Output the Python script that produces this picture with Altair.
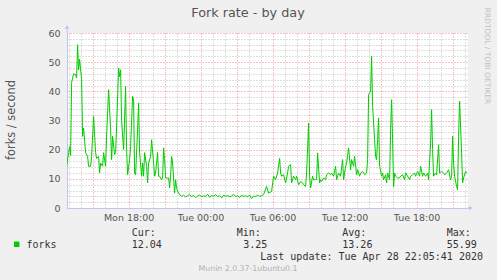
import altair as alt
import pandas as pd

# minutes since Mon 12:00 and fork rate (forks / second)
t_busy = [50,60,65,70,75,85,95,100,105,110,115,125,130,135,145,155,160,170,175,185,
          195,200,210,215,220,230,235,245,250,260,270,275,280,290,295,300,310,315,320,325,
          335,345,350,355,365,370,380,385,390,395,405,410,415,425,430,435,440,450,455,460,
          470,475,485,490,495,505,510,515,525,530,535,540,545,555,560,565,570,575,580,590,
          595,600,605,615,625]
v_busy = [14.3,19,21,18,43,46,45.7,44.6,55.99,47.4,51,44,24.6,27.4,19,17.7,14.3,14.3,17.7,31.4,
          19,17,17.7,12,15.4,14.3,19,14.3,24.6,40.6,27,16.6,24.6,18.3,19,28,48,45,47.4,30,
          20,41.7,20,11.4,16.6,21,38.3,37,12,11.4,27,36,19,10.9,15.4,10.9,19,14.3,8.6,15.4,
          17.7,23.4,15.4,10.9,12,19,10.9,10.9,9.7,10.3,20.6,16.6,10.3,10.3,10.3,6.9,10.9,17.7,15.4,5.1,
          9.7,6.9,5.7,4.6,4.0]

t_night = list(range(635, 1036, 10))
v_night = [4.4,3.8,4.2,4.6,3.9,4.3,3.6,4.1,4.5,3.8,
           4.2,4.0,4.7,3.7,4.3,4.0,4.6,3.9,4.2,3.5,
           4.4,4.0,4.3,3.8,4.1,4.7,3.9,4.2,3.6,4.4,
           4.0,4.2,3.8,4.5,3.25,4.1,3.9,4.4,4.0,4.2,
           4.6]

t_day = [1050,1060,1075,1085,1095,1105,1115,1120,1125,1135,
         1145,1155,1160,1170,1175,1185,1195,1200,1210,1220,
         1230,1235,1245,1250,1260,1265,1270,1280,1285,1295,
         1300,1305,1315,1320,1325,1335,1345,1350,1360,1370,
         1375,1385,1395,1400,1410,1420,1430,1435,1445,1450,
         1460,1470,1475,1485,1490,1500,1505,1515,1520,1530,
         1540,1550,1555,1560,1570,1575,1580,1590,1595,1600,
         1605,1610,1615,1625,1630,1635,1645,1650,1655,1665,
         1670,1675,1680,1685,1690,1695,1705,1715,1720,1730,
         1740,1745,1755,1765,1770,1780,1790,1795,1805,1815,
         1820,1830,1835,1845,1855,1860,1870,1875,1880,1885,
         1895,1900,1910,1915,1925,1935,1940,1950,1960,1970,
         1975,1980,1985,1990,2000,2005,2010,2015,2025,2030,
         2035,2045,2050]
v_day = [7.4,5.1,5.7,10.9,9.7,12,17,12,10.9,11.4,
         8.6,12,14.3,14.9,8.6,10.9,9.7,10.9,8,9.1,
         8.6,8,7.4,12,29.1,10.9,6.9,10.9,9.7,9.7,
         9.7,18.9,8.6,9.7,9.1,10.3,9.7,11.4,12,11.4,
         12,10.9,14.3,9.7,12,10.9,16.6,9.7,14.3,15.4,
         20.6,13.1,16.6,14.3,17.7,11.4,13.1,10.9,12,12.6,
         11.4,12,16.6,38.9,40,52,34.9,23.4,17.7,16.6,
         23.4,30.9,14.3,10.9,12,9.7,11.4,8.6,12,9.7,
         26.9,37.1,23.4,7.4,12,10.9,10.3,10.3,10.9,11.4,
         9.7,12,10.9,9.7,10.9,11.4,12,10.9,12.6,10.9,
         14.3,10.9,12,10.9,12,9.7,22.3,33.7,20,10.9,
         12,11.4,21.7,12,12.6,12,11.4,12,13.1,9.7,
         10.9,24.6,15.4,10.9,7.4,6.3,24.6,36.6,18.9,8.6,
         10.3,12.6,12.04]

stat_names = ["Cur:", "Min:", "Avg:", "Max:"]
stat_values = ["12.04", "3.25", "13.26", "55.99"]
series_name = "forks"
title_text = "Fork rate - by day"
y_title = "forks / second"
last_update = "Last update: Tue Apr 28 22:05:41 2020"
footer = "Munin 2.0.37-1ubuntu0.1"
side_text = "RRDTOOL / TOBI OETIKER"

df = pd.DataFrame({"t": t_busy + t_night + t_day, "v": v_busy + v_night + v_day})

GREEN = "#00cc00"
RED_GRID = "#f08a8a"
GRAY_GRID = "#bdbdbd"
AXIS_COL = "#c4c4f0"
TXT = "#555555"

x_axis = alt.Axis(
    values=list(range(60, 2041, 60)),
    labelExpr="datum.value % 360 == 0 ? (((datum.value/60+12) >= 24) ? 'Tue ' : 'Mon ') + pad(toString((datum.value/60+12) % 24), 2, '0', 'left') + ':00' : ''",
    grid=True,
    gridColor={"condition": {"test": "datum.value % 180 == 0", "value": RED_GRID}, "value": GRAY_GRID},
    gridDash=[1, 2],
    domainColor=AXIS_COL,
    ticks=False,
    labelFont="DejaVu Sans",
    labelFontSize=9.5,
    labelColor=TXT,
    labelPadding=4,
    labelOverlap=False,
    labelFlush=False,
    title=None,
)
y_axis = alt.Axis(
    values=list(range(0, 61, 2)),
    labelExpr="datum.value % 10 == 0 ? datum.label : ''",
    grid=True,
    gridColor={"condition": {"test": "datum.value % 10 == 0", "value": RED_GRID}, "value": GRAY_GRID},
    gridDash=[1, 2],
    domainColor=AXIS_COL,
    ticks=False,
    labelFont="DejaVu Sans",
    labelFontSize=9.5,
    labelColor=TXT,
    labelPadding=7,
    labelOverlap=False,
    labelFlush=False,
    title=None,
)

line = alt.Chart(df).mark_line(color=GREEN, strokeWidth=1, clip=True).encode(
    x=alt.X("t:Q", scale=alt.Scale(domain=[52, 2057], nice=False, zero=False), axis=x_axis),
    y=alt.Y("v:Q", scale=alt.Scale(domain=[0, 60], nice=False), axis=y_axis),
)


def txt(s, x, y, **kw):
    return alt.Chart(pd.DataFrame({"s": [s]})).mark_text(**kw).encode(
        x=alt.value(x), y=alt.value(y), text="s:N"
    )


layers = [line]
layers.append(txt(title_text, 181, -20, font="DejaVu Sans", fontSize=12.8, color=TXT, align="center", baseline="middle"))
layers.append(txt(y_title, -55, 87, font="DejaVu Sans", fontSize=11.4, color=TXT, angle=270, align="center", baseline="middle"))
layers.append(txt(side_text, 420, 23, font="DejaVu Sans", fontSize=7.5, color="#c0c0c0", angle=90, align="center", baseline="middle"))
layers.append(txt(series_name, -40.5, 211.5, font="DejaVu Sans Mono", fontSize=10, color="#333333", align="left", baseline="middle"))
name_x = [64.7, 169.7, 275.3, 379.7]
val_x = [64.7, 176.3, 275.3, 379.7]
for n, v, nx, vx in zip(stat_names, stat_values, name_x, val_x):
    layers.append(txt(n, nx, 200, font="DejaVu Sans Mono", fontSize=10, color="#333333", align="left", baseline="middle"))
    layers.append(txt(v, vx, 211.5, font="DejaVu Sans Mono", fontSize=10, color="#333333", align="left", baseline="middle"))
layers.append(txt(last_update, 416, 223.7, font="DejaVu Sans Mono", fontSize=10, color="#333333", align="right", baseline="middle"))
layers.append(txt(footer, 181, 236.3, font="DejaVu Sans", fontSize=7.8, color="#b0b0b0", align="center", baseline="middle"))

# legend swatch
layers.append(alt.Chart(pd.DataFrame({"s": [series_name]})).mark_square(size=30, filled=True, color=GREEN, opacity=1).encode(
    x=alt.value(-50.3), y=alt.value(211.3)))
# axis arrows
layers.append(alt.Chart(pd.DataFrame({"s": ["y"]})).mark_rule(color=AXIS_COL).encode(
    x=alt.value(0), y=alt.value(-6), y2=alt.value(0)))
layers.append(alt.Chart(pd.DataFrame({"s": ["y"]})).mark_point(shape="triangle-up", size=22, filled=True, color=AXIS_COL, opacity=1).encode(
    x=alt.value(0), y=alt.value(-6)))
layers.append(alt.Chart(pd.DataFrame({"s": ["x"]})).mark_rule(color=AXIS_COL).encode(
    x=alt.value(400), x2=alt.value(404), y=alt.value(175)))
layers.append(alt.Chart(pd.DataFrame({"s": ["x"]})).mark_point(shape="triangle-right", size=22, filled=True, color=AXIS_COL, opacity=1).encode(
    x=alt.value(404), y=alt.value(175)))

chart = alt.layer(*layers).properties(
    width=401,
    height=175,
    padding={"left": 67, "top": 33, "right": 29, "bottom": 72},
    autosize=alt.AutoSizeParams(type="none"),
    background="#f0f0f0",
).configure_view(fill="white", strokeWidth=0)

chart.save("out.html", embed_options={"renderer": "svg", "actions": False})
